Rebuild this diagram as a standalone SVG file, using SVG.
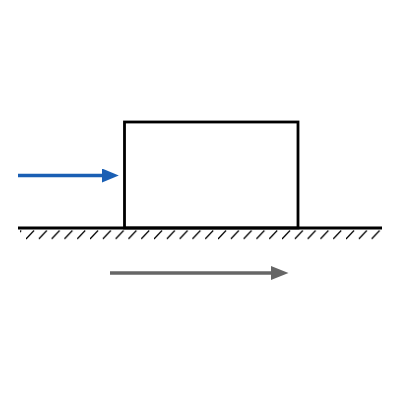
<svg xmlns="http://www.w3.org/2000/svg" width="400" height="400" viewBox="0 0 400 400">
<style>
.ln{stroke:#000;stroke-width:2.8;fill:none}
.h{stroke:#000;stroke-width:1.2}
</style>
<defs>
<marker id="hb" markerWidth="5" markerHeight="4" refX="0" refY="2" orient="auto" markerUnits="strokeWidth"><path d="M0,0 L4.8,2 L0,4 Z" fill="#1a5fb4"/></marker>
<marker id="hg" markerWidth="5" markerHeight="4" refX="0" refY="2" orient="auto" markerUnits="strokeWidth"><path d="M0,0 L5,2 L0,4 Z" fill="#666"/></marker>
<pattern id="hatch" x="26" y="0" width="12.8" height="400" patternUnits="userSpaceOnUse"><line x1="0" y1="239" x2="8" y2="230.5" class="h"/></pattern>
</defs>
<g id="ground">
<rect x="20" y="229" width="362" height="11" fill="url(#hatch)"/>
<line x1="18" y1="228" x2="382" y2="228" class="ln"/>
</g>
<g id="block"><rect x="124.5" y="122" width="173.5" height="106" class="ln"/></g>
<g id="connectors">
<line x1="18" y1="175.5" x2="102" y2="175.5" stroke="#1a5fb4" stroke-width="3.5" marker-end="url(#hb)"/>
<line x1="110" y1="273" x2="271" y2="273" stroke="#666" stroke-width="3.5" marker-end="url(#hg)"/>
</g>
</svg>
